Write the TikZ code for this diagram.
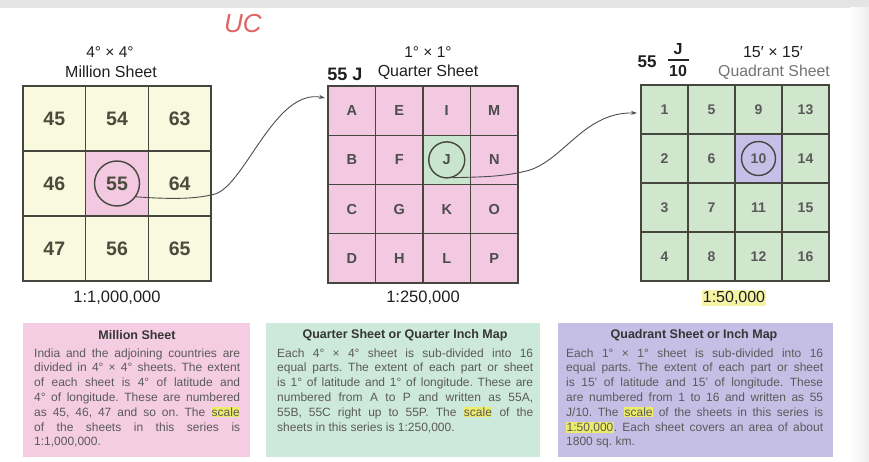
\documentclass[tikz,border=0pt]{standalone}
\usepackage{fontspec}
\setmainfont{Liberation Sans}
\usetikzlibrary{arrows.meta}
\definecolor{topgray}{HTML}{E4E4E4}
\definecolor{cream}{HTML}{F9F9DF}
\definecolor{pinkc}{HTML}{F2C9E0}
\definecolor{greenc}{HTML}{C9E5CE}
\definecolor{green3}{HTML}{D0E6CD}
\definecolor{purplec}{HTML}{C6BFE7}
\definecolor{gridline}{HTML}{45463D}
\definecolor{numc}{HTML}{4A4B3D}
\definecolor{bodyc}{HTML}{5A5A5A}
\definecolor{titlec}{HTML}{353535}
\definecolor{boxpink}{HTML}{F5CDE3}
\definecolor{boxgreen}{HTML}{CDE9DB}
\definecolor{boxpurple}{HTML}{C5BFE6}
\definecolor{hly}{HTML}{EDEB6A}
\definecolor{hlsoft}{HTML}{F6F5A6}
\definecolor{ucred}{HTML}{E06464}
\newcommand\hlt[1]{{\setlength\fboxsep{0.5pt}\colorbox{hly}{#1}}}
\newcommand\jl[1]{\makebox[\linewidth][s]{#1}\\}
\begin{document}
\frenchspacing
\begin{tikzpicture}[x=1pt,y=-1pt,
  cellbase/.style={draw=gridline, rectangle, inner sep=0pt, text=numc},
  cellA/.style={cellbase, line width=1.6pt, minimum width=62.7pt, minimum height=65pt,
    font=\fontsize{19.5}{22}\selectfont\bfseries},
  cellB/.style={cellbase, line width=1.3pt, minimum width=47.5pt, minimum height=49.25pt,
    font=\fontsize{14.5}{17}\selectfont\bfseries, text=black!70},
  cellC/.style={cellbase, line width=1.3pt, minimum width=47pt, minimum height=49pt,
    font=\fontsize{14}{16}\selectfont\bfseries, text=black!65},
  ring/.style={circle, draw=gridline, line width=1.4pt, inner sep=0pt},
  conn/.style={draw=black!70, line width=0.9pt, -{Stealth[length=6pt,width=4pt]}},
  lab/.style={inner sep=0pt, text=black!88},
  panel/.style={rectangle, draw=none, inner sep=0pt},
  ptitle/.style={inner sep=0pt, text=titlec, font=\fontsize{12.5}{14}\selectfont\bfseries},
  pbody/.style={inner sep=0pt, anchor=base west, text=bodyc, font=\fontsize{12}{14.8}\selectfont}
]
\useasboundingbox (0,0) rectangle (869,462);
\fill[topgray] (0,0) rectangle (869,8);
\shade[left color=white, right color=black!7] (850,8) rectangle (869,462);

% UC mark
\node[inner sep=0pt, text=ucred, font=\fontsize{26}{28}\selectfont\itshape] (uc) at (243,24) {UC};

% ---------- Grid 1 ----------
\foreach \n [count=\i from 0] in {45,46,47,54,55,56,63,64,65}{
  \pgfmathtruncatemacro\c{int(\i/3)}
  \pgfmathtruncatemacro\r{mod(\i,3)}
  \edef\fc{\ifnum\n=55 pinkc\else cream\fi}
  \node[cellA, fill=\fc] (g1-\n) at ({23+62.67*(\c+0.5)}, {86+65*(\r+0.5)}) {\n};
}
\node[ring, minimum size=45pt] (c55) at (g1-55) {};
\node[lab, font=\fontsize{15.5}{17}\selectfont] (t1a) at (110,52) {4° × 4°};
\node[lab, font=\fontsize{16}{18}\selectfont] (t1b) at (111,72) {Million Sheet};
\node[lab, font=\fontsize{16.5}{18}\selectfont] (s1) at (117,298) {1:1,000,000};

% ---------- Grid 2 ----------
\foreach \l [count=\i from 0] in {A,B,C,D,E,F,G,H,I,J,K,L,M,N,O,P}{
  \pgfmathtruncatemacro\c{int(\i/4)}
  \pgfmathtruncatemacro\r{mod(\i,4)}
  \edef\fc{\ifnum\i=9 greenc\else pinkc\fi}
  \node[cellB, fill=\fc] (g2-\l) at ({328+47.5*(\c+0.5)}, {86+49.25*(\r+0.5)}) {\l};
}
\node[ring, minimum size=36pt] (cJ) at (g2-J) {};
\node[lab, font=\fontsize{15.5}{17}\selectfont] (t2a) at (428,52) {1° × 1°};
\node[lab, font=\fontsize{18}{20}\selectfont\bfseries] (t2c) at (345,74) {55 J};
\node[lab, font=\fontsize{16}{18}\selectfont] (t2b) at (428,72) {Quarter Sheet};
\node[lab, font=\fontsize{16.5}{18}\selectfont] (s2) at (423,298) {1:250,000};

% ---------- Grid 3 ----------
\foreach \n [count=\i from 0] in {1,...,16}{
  \pgfmathtruncatemacro\c{int(\i/4)}
  \pgfmathtruncatemacro\r{mod(\i,4)}
  \edef\fc{\ifnum\n=10 purplec\else green3\fi}
  \node[cellC, fill=\fc] (g3-\n) at ({641+47*(\c+0.5)}, {85+49*(\r+0.5)}) {\n};
}
\node[ring, minimum size=34pt] (c10) at (g3-10) {};
\node[lab, font=\fontsize{17}{19}\selectfont\bfseries] (f55) at (647,62) {55};
\node[lab, font=\fontsize{16}{18}\selectfont\bfseries] (fJ) at (678,49) {J};
\node[lab, font=\fontsize{16}{18}\selectfont\bfseries] (f10) at (678,71) {10};
\draw[line width=1.1pt, black!85] (668,60) -- (689,60);
\node[lab, font=\fontsize{16}{18}\selectfont] (t3a) at (773,52) {15′ × 15′};
\node[lab, text=black!55, font=\fontsize{15.8}{18}\selectfont] (t3b) at (774,72) {Quadrant Sheet};
\node[lab, fill=hlsoft, inner sep=1pt, font=\fontsize{16}{18}\selectfont] (s3) at (734,298) {1:50,000};

% ---------- Connectors ----------
\coordinate (a1) at (325,98);
\coordinate (a2) at (637,113);
\draw[conn] (c55.-35) .. controls (180,200) and (200,198) .. (215,194)
  .. controls (245,185) and (275,88) .. (a1);
\draw[conn] (cJ.-72) .. controls (480,177) and (505,177) .. (530,170)
  .. controls (565,158) and (585,112) .. (a2);

% ---------- Panels ----------
\node[panel, fill=boxpink, minimum width=227pt, minimum height=134pt] (p1) at (136.5,390) {};
\node[panel, fill=boxgreen, minimum width=274pt, minimum height=134pt] (p2) at (403,390) {};
\node[panel, fill=boxpurple, minimum width=275pt, minimum height=134pt] (p3) at (695.5,390) {};

\node[ptitle] (p1t) at (137,335) {Million Sheet};
\node[pbody] (p1b) at (34,357) {\parbox[t]{206pt}{%
\jl{India and the adjoining countries are}
\jl{divided in 4° × 4° sheets. The extent}
\jl{of each sheet is 4° of latitude and}
\jl{4° of longitude. These are numbered}
\jl{as 45, 46, 47 and so on. The \hlt{scale}}
\jl{of the sheets in this series is}
1:1,000,000.}};

\node[ptitle] (p2t) at (405,335) {Quarter Sheet or Quarter Inch Map};
\node[pbody] (p2b) at (277,357) {\parbox[t]{256pt}{%
\jl{Each 4° × 4° sheet is sub-divided into 16}
\jl{equal parts. The extent of each part or sheet}
\jl{is 1° of latitude and 1° of longitude. These are}
\jl{numbered from A to P and written as 55A,}
\jl{55B, 55C right up to 55P. The \hlt{scale} of the}
sheets in this series is 1:250,000.}};

\node[ptitle] (p3t) at (694,335) {Quadrant Sheet or Inch Map};
\node[pbody] (p3b) at (566,357) {\parbox[t]{257pt}{%
\jl{Each 1° × 1° sheet is sub-divided into 16}
\jl{equal parts. The extent of each part or sheet}
\jl{is 15' of latitude and 15' of longitude. These}
\jl{are numbered from 1 to 16 and written as 55}
\jl{J/10. The \hlt{scale} of the sheets in this series is}
\jl{\hlt{1:50,000}. Each sheet covers an area of about}
1800 sq. km.}};
\end{tikzpicture}
\end{document}
